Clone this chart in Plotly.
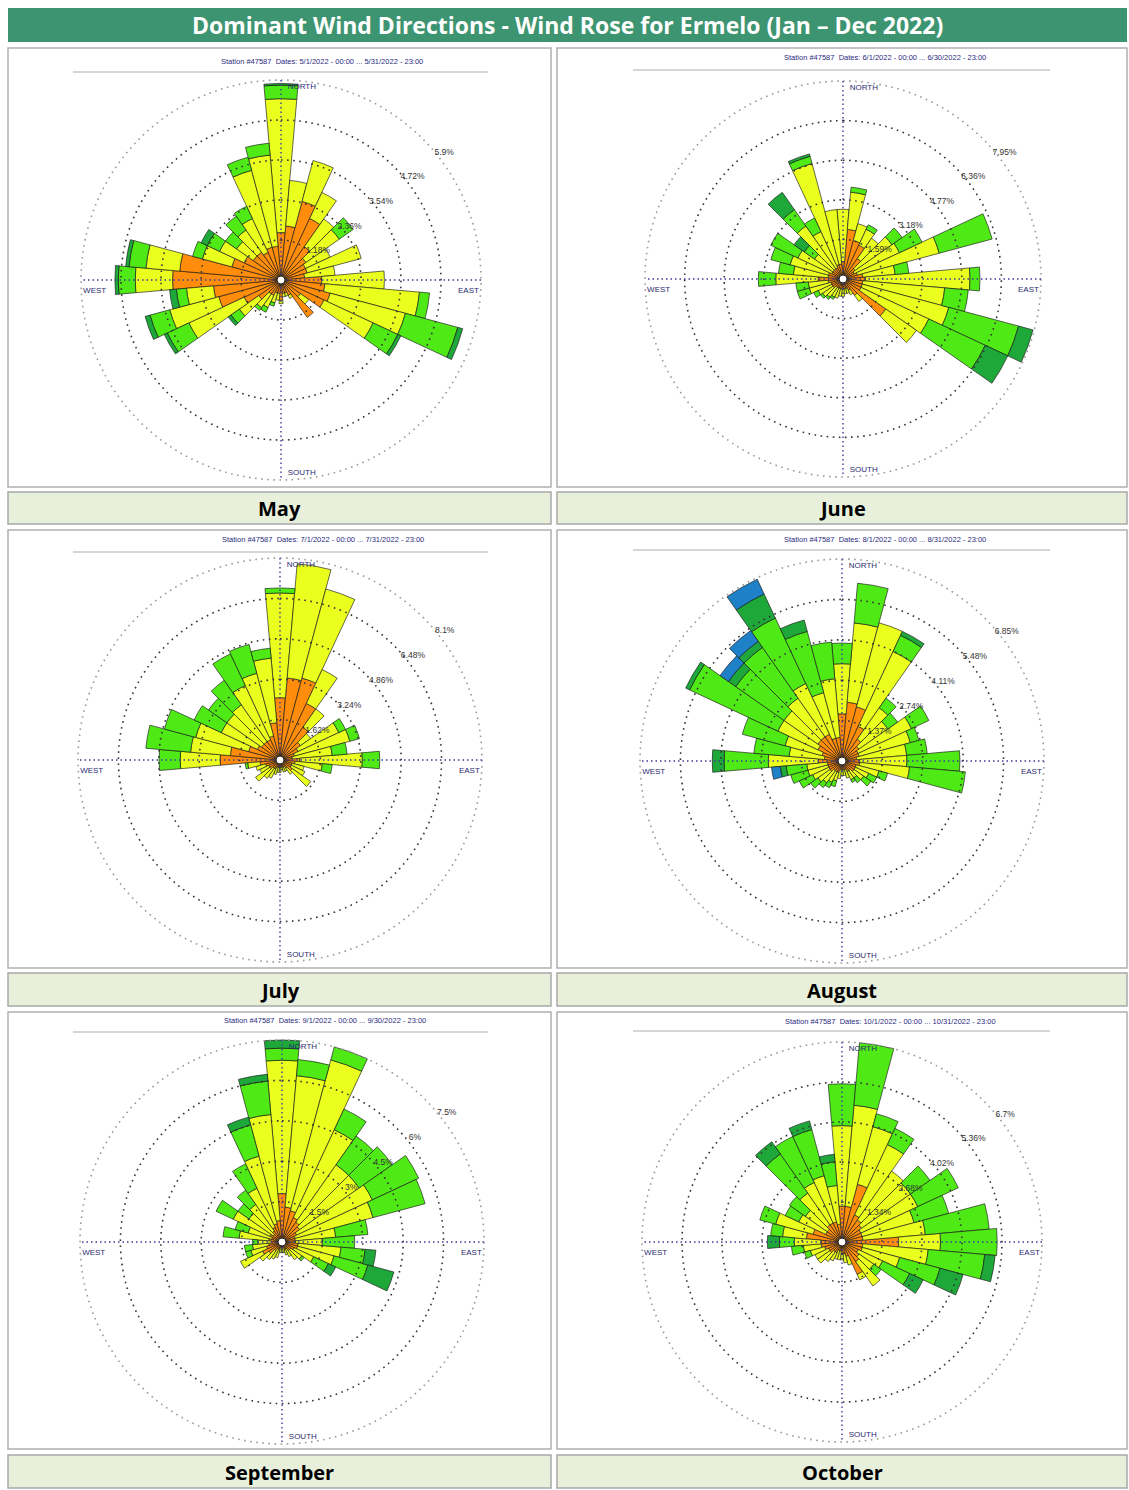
import plotly.graph_objects as go

W, H = 1129, 1490

directions = list(range(0, 360, 10))
bin_colors = ["#FF8C0A", "#EAFF1E", "#4FEA16", "#1FA83A", "#1E80C6"]

months = ["May", "June", "July", "August", "September", "October"]
header_texts = [
    "Station #47587  Dates: 5/1/2022 - 00:00 ... 5/31/2022 - 23:00",
    "Station #47587  Dates: 6/1/2022 - 00:00 ... 6/30/2022 - 23:00",
    "Station #47587  Dates: 7/1/2022 - 00:00 ... 7/31/2022 - 23:00",
    "Station #47587  Dates: 8/1/2022 - 00:00 ... 8/31/2022 - 23:00",
    "Station #47587  Dates: 9/1/2022 - 00:00 ... 9/30/2022 - 23:00",
    "Station #47587  Dates: 10/1/2022 - 00:00 ... 10/31/2022 - 23:00",
]

# ring values (percent of time) per month
may_rings = [1.18, 2.36, 3.54, 4.72, 5.9]
jun_rings = [1.59, 3.18, 4.77, 6.36, 7.95]
jul_rings = [1.62, 3.24, 4.86, 6.48, 8.1]
aug_rings = [1.37, 2.74, 4.11, 5.48, 6.85]
sep_rings = [1.5, 3.0, 4.5, 6.0, 7.5]
oct_rings = [1.34, 2.68, 4.02, 5.36, 6.7]

# ---- May (percent per speed class, by direction 0..350) ----
may_orange = [1.4, 1.6, 2.4, 2.0, 1.2, 0.9, 0.8, 0.8, 0.7, 1.2, 1.3, 1.5, 1.4, 0.7, 1.35, 0.5, 0.4, 0.4,
              0.6, 0.4, 0.4, 0.5, 0.5, 0.8, 1.2, 1.9, 2.0, 3.2, 3.0, 1.5, 1.2, 1.0, 1.0, 0.9, 1.0, 1.0]
may_yellow = [3.95, 1.35, 1.25, 0.85, 1.0, 1.2, 0.8, 1.65, 0.9, 1.85, 2.8, 2.3, 1.6, 0.3, 0.0, 0.1, 0.1, 0.1,
              0.1, 0.2, 0.3, 0.4, 0.5, 0.7, 1.8, 1.5, 0.8, 1.1, 1.0, 0.9, 0.8, 0.6, 0.8, 1.1, 2.35, 2.7]
may_green = [0.4, 0, 0, 0, 0, 0.5, 0, 0, 0, 0, 0.3, 1.6, 0.8, 0, 0, 0, 0, 0,
             0, 0, 0.1, 0.15, 0.1, 0.3, 0.7, 0.6, 0.3, 0.5, 0.5, 0.3, 0.4, 0.4, 0.5, 0.4, 0.4, 0.35]
may_dkgreen = [0.05, 0, 0, 0, 0, 0, 0, 0, 0, 0, 0, 0.15, 0.1, 0, 0, 0, 0, 0,
               0, 0, 0, 0, 0, 0.1, 0.1, 0.15, 0.2, 0.1, 0.1, 0, 0.2, 0, 0, 0, 0, 0]
may_blue = [0] * 36

# ---- June ----
jun_orange = [0.7, 2.0, 1.6, 1.5, 1.0, 0.6, 0.5, 0.6, 0.8, 0.9, 0.8, 0.8, 0.8, 2.1, 0.8, 0.5, 0.4, 0.4,
              0.4, 0.4, 0.4, 0.4, 0.4, 0.5, 0.5, 0.5, 0.6, 1.0, 0.6, 0.6, 0.5, 0.5, 0.5, 0.5, 0.6, 0.6]
jun_yellow = [2.1, 1.5, 0.7, 0.7, 1.0, 1.8, 2.0, 3.4, 1.3, 4.2, 3.3, 3.6, 3.0, 1.5, 0.3, 0.2, 0.2, 0.2,
              0.3, 0.3, 0.4, 0.4, 0.5, 0.5, 0.6, 0.9, 0.8, 1.7, 1.4, 1.6, 1.5, 0.9, 2.1, 1.6, 4.2, 2.2]
jun_green = [0, 0.2, 0, 0.2, 0, 0.5, 1.0, 2.2, 0.55, 0.4, 0.95, 2.9, 2.5, 0, 0, 0, 0, 0,
             0, 0, 0, 0.1, 0.1, 0.1, 0.2, 0.5, 0.5, 0.7, 0.6, 0.8, 1.2, 0.5, 0.8, 0.6, 0.3, 0]
jun_dkgreen = [0, 0, 0, 0, 0, 0, 0, 0, 0, 0, 0, 0.6, 1.0, 0, 0, 0, 0, 0,
               0, 0, 0, 0, 0, 0, 0, 0, 0, 0, 0, 0, 0, 0.5, 0.85, 0, 0.1, 0]
jun_blue = [0] * 36

# ---- July ----
jul_orange = [2.5, 3.3, 3.4, 2.5, 1.6, 1.0, 0.8, 0.6, 0.5, 0.8, 0.6, 0.5, 0.5, 0.6, 0.4, 0.3, 0.3, 0.3,
              0.3, 0.3, 0.3, 0.4, 0.4, 0.5, 0.5, 0.6, 0.8, 2.4, 2.0, 1.3, 1.0, 0.9, 0.9, 0.9, 1.0, 1.5]
jul_yellow = [4.2, 4.6, 3.7, 1.5, 0.9, 0.5, 1.8, 2.3, 1.6, 2.5, 1.1, 0.5, 0.6, 0.9, 0.3, 0.2, 0.2, 0.1,
              0.2, 0.2, 0.3, 0.4, 0.5, 0.7, 0.4, 0.4, 0.5, 1.6, 1.6, 2.2, 1.6, 1.7, 1.8, 2.4, 2.6, 2.6]
jul_green = [0.2, 0, 0, 0, 0, 0, 0.3, 0.4, 0.6, 0.7, 0.4, 0, 0, 0, 0, 0, 0, 0,
             0, 0, 0, 0, 0, 0, 0, 0, 0.1, 0.85, 1.8, 1.3, 1.2, 0.9, 1.2, 1.4, 1.2, 0.4]
jul_dkgreen = [0] * 36
jul_blue = [0] * 36

# ---- August ----
aug_orange = [1.6, 2.0, 1.9, 1.3, 0.9, 0.7, 0.6, 0.6, 0.5, 0.6, 0.6, 0.5, 0.5, 0.5, 0.4, 0.4, 0.3, 0.3,
              0.3, 0.3, 0.4, 0.4, 0.4, 0.5, 0.5, 0.5, 0.5, 0.8, 0.6, 0.7, 0.9, 1.0, 1.0, 1.0, 0.8, 0.8]
aug_yellow = [1.7, 2.7, 2.95, 2.8, 1.3, 1.2, 2.0, 1.8, 1.7, 1.6, 1.7, 0.8, 0.5, 0.4, 0.3, 0.3, 0.3, 0.2,
              0.2, 0.3, 0.3, 0.4, 0.5, 0.5, 0.6, 0.7, 0.7, 1.7, 1.2, 1.3, 1.5, 1.4, 1.6, 1.9, 1.6, 2.0]
aug_green = [0.7, 1.35, 0, 0.6, 0.4, 0.4, 0.65, 0.3, 0.7, 1.8, 1.9, 0.3, 0.3, 0.3, 0.2, 0.1, 0, 0,
             0, 0, 0.2, 0.2, 0.2, 0.3, 0.5, 0.6, 0.7, 1.5, 1.2, 1.5, 3.3, 2.0, 2.1, 2.45, 2.15, 1.25]
aug_dkgreen = [0, 0, 0, 0.15, 0, 0, 0, 0, 0, 0, 0, 0, 0, 0, 0, 0, 0, 0,
               0, 0, 0, 0, 0, 0, 0, 0, 0.2, 0.4, 0, 0, 0.15, 0.3, 0.25, 0.9, 0.4, 0]
aug_blue = [0, 0, 0, 0, 0, 0, 0, 0, 0, 0, 0, 0, 0, 0, 0, 0, 0, 0,
            0, 0, 0, 0, 0, 0, 0, 0, 0.3, 0, 0, 0, 0, 0.35, 0.45, 0.55, 0, 0]

# ---- September ----
sep_orange = [1.8, 1.3, 1.2, 1.0, 0.9, 0.8, 0.6, 0.5, 0.5, 0.5, 0.6, 0.6, 0.5, 0.4, 0.4, 0.3, 0.3, 0.2,
              0.2, 0.2, 0.3, 0.3, 0.4, 0.6, 0.8, 0.6, 0.5, 0.4, 0.5, 0.4, 0.5, 0.4, 0.5, 0.6, 0.7, 0.8]
sep_yellow = [4.95, 4.9, 5.8, 3.6, 2.6, 2.7, 3.1, 3.0, 1.5, 1.0, 1.6, 1.4, 0.8, 0.5, 0.4, 0.3, 0.2, 0.2,
              0.2, 0.2, 0.3, 0.4, 0.4, 0.4, 0.9, 0.6, 0.6, 0.5, 1.1, 0.9, 1.5, 1.1, 1.2, 1.6, 2.6, 3.95]
sep_green = [0.45, 0.6, 0.5, 0.85, 1.3, 1.5, 1.9, 2.0, 1.2, 1.2, 0.9, 1.3, 0.6, 0.1, 0, 0, 0, 0,
             0, 0, 0, 0, 0, 0, 0, 0.2, 0.3, 0.2, 0.6, 0.5, 0.7, 0.5, 0.65, 1.0, 1.2, 1.25]
sep_dkgreen = [0.3, 0, 0, 0, 0, 0, 0, 0, 0, 0, 0.4, 1.0, 0.3, 0, 0, 0, 0, 0,
               0, 0, 0, 0, 0, 0, 0, 0, 0, 0, 0, 0, 0, 0, 0, 0, 0.3, 0.25]
sep_blue = [0] * 36

# ---- October ----
oct_orange = [1.2, 1.2, 2.0, 1.0, 0.9, 0.8, 0.7, 0.7, 0.7, 1.9, 0.7, 0.7, 0.6, 0.7, 0.8, 1.2, 0.5, 0.4,
              0.4, 0.3, 0.3, 0.4, 0.4, 0.5, 0.5, 0.6, 0.7, 0.7, 1.2, 1.0, 0.6, 0.6, 0.7, 0.7, 0.7, 0.6]
oct_yellow = [2.7, 3.4, 2.0, 2.6, 2.0, 2.0, 2.1, 1.8, 2.1, 1.4, 2.2, 1.3, 0.9, 0.6, 1.0, 0.2, 0.3, 0.3,
              0.2, 0.3, 0.3, 0.3, 0.4, 0.5, 0.5, 0.5, 0.6, 0.9, 0.8, 1.3, 1.0, 0.9, 1.3, 1.5, 1.6, 1.3]
oct_green = [1.4, 2.1, 0.45, 0.6, 0, 0.8, 1.5, 1.2, 2.15, 1.9, 1.9, 1.4, 1.0, 0.3, 0, 0, 0, 0,
             0, 0, 0, 0, 0, 0, 0, 0.2, 0.4, 0.5, 0.4, 0.55, 0.5, 0.65, 1.6, 1.7, 1.6, 0.8]
oct_dkgreen = [0, 0, 0, 0, 0, 0, 0, 0, 0, 0, 0.35, 0.8, 0.5, 0, 0, 0, 0, 0,
               0, 0, 0, 0, 0, 0, 0, 0, 0, 0.4, 0, 0, 0, 0, 0.5, 0, 0.3, 0.25]
oct_blue = [0] * 36

month_bins = [
    [may_orange, may_yellow, may_green, may_dkgreen, may_blue],
    [jun_orange, jun_yellow, jun_green, jun_dkgreen, jun_blue],
    [jul_orange, jul_yellow, jul_green, jul_dkgreen, jul_blue],
    [aug_orange, aug_yellow, aug_green, aug_dkgreen, aug_blue],
    [sep_orange, sep_yellow, sep_green, sep_dkgreen, sep_blue],
    [oct_orange, oct_yellow, oct_green, oct_dkgreen, oct_blue],
]
month_rings = [may_rings, jun_rings, jul_rings, aug_rings, sep_rings, oct_rings]

# ---- layout geometry (pixels) ----
col_x = [(8, 551), (557, 1127)]
row_y = [(48, 487), (530, 968), (1012, 1449)]
label_y = [(492, 524), (973, 1006), (1455, 1488)]
rose_centers = [(281, 280), (843, 279), (280, 760), (842, 761), (282, 1242), (842, 1242)]
rose_radius = [200, 198, 202, 202, 202, 200]
header_pos = [(322, 61), (885, 58), (323, 540), (885, 539), (325, 1020), (890, 1021)]
header_lines = [(73, 488, 72), (633, 1050, 70), (73, 488, 552), (633, 1050, 550), (73, 488, 1032), (633, 1050, 1031)]
PAD = 1.08  # radial range headroom so outer labels stay visible


def fx(px):
    return px / W


def fy(py):
    return 1 - py / H


fig = go.Figure()
shapes = []
annotations = []

# title bar
shapes.append(dict(type="rect", xref="paper", yref="paper", x0=fx(8), x1=fx(1127), y0=fy(42), y1=fy(8),
                   fillcolor="#3D9470", line=dict(color="#3D9470", width=0), layer="below"))
annotations.append(dict(text="<b>Dominant Wind Directions - Wind Rose for Ermelo (Jan \u2013 Dec 2022)</b>",
                        x=fx(567), y=fy(25), xref="paper", yref="paper", showarrow=False,
                        font=dict(family="Open Sans", size=23, color="white"), xanchor="center", yanchor="middle"))

theta_circle = list(range(0, 361, 2))
text_font = dict(family="Liberation Sans", size=8, color="#2b2b70")

for i, month in enumerate(months):
    r_i, c_i = divmod(i, 2)
    x0, x1 = col_x[c_i]
    y0, y1 = row_y[r_i]
    ly0, ly1 = label_y[r_i]
    # panel frame
    shapes.append(dict(type="rect", xref="paper", yref="paper", x0=fx(x0), x1=fx(x1), y0=fy(y1), y1=fy(y0),
                       fillcolor="white", line=dict(color="#B0B0B0", width=1.5), layer="below"))
    # label bar
    shapes.append(dict(type="rect", xref="paper", yref="paper", x0=fx(x0), x1=fx(x1), y0=fy(ly1), y1=fy(ly0),
                       fillcolor="#E8F0DC", line=dict(color="#A8A8A8", width=1.5), layer="below"))
    annotations.append(dict(text="<b>%s</b>" % month, x=fx((x0 + x1) / 2), y=fy((ly0 + ly1) / 2 + 1),
                            xref="paper", yref="paper", showarrow=False,
                            font=dict(family="Open Sans", size=20, color="black"), xanchor="center", yanchor="middle"))
    # header
    hx, hy = header_pos[i]
    annotations.append(dict(text=header_texts[i], x=fx(hx), y=fy(hy), xref="paper", yref="paper", showarrow=False,
                            font=dict(family="Liberation Sans", size=7.5, color="#2b2b80"),
                            xanchor="center", yanchor="middle"))
    lx0, lx1, lyy = header_lines[i]
    shapes.append(dict(type="line", xref="paper", yref="paper", x0=fx(lx0), x1=fx(lx1), y0=fy(lyy), y1=fy(lyy),
                       line=dict(color="#C8C8C8", width=1.5), layer="below"))

    key = "polar" if i == 0 else "polar%d" % (i + 1)
    cx, cy = rose_centers[i]
    R = rose_radius[i] * PAD
    rings = month_rings[i]
    rmax = rings[-1]

    # rings
    for k, v in enumerate(rings):
        fig.add_trace(go.Scatterpolar(r=[v] * len(theta_circle), theta=theta_circle, mode="lines",
                                      line=dict(color="#9a9a9a" if k == len(rings) - 1 else "#333333",
                                                width=1.6, dash="1.6px,4.5px"),
                                      hoverinfo="skip", showlegend=False, subplot=key))
    # compass axes
    for a, b in [(0, 180), (90, 270)]:
        fig.add_trace(go.Scatterpolar(r=[rmax, 0, rmax], theta=[a, a, b], mode="lines",
                                      line=dict(color="#3b3b9a", width=1.4, dash="1.5px,3px"),
                                      hoverinfo="skip", showlegend=False, subplot=key))
    # bars
    for b, vals in enumerate(month_bins[i]):
        fig.add_trace(go.Barpolar(r=vals, theta=directions, width=[10] * 36,
                                  marker=dict(color=bin_colors[b], line=dict(color="rgba(20,20,20,0.8)", width=0.8)),
                                  showlegend=False, subplot=key, hoverinfo="skip"))
    # center dot
    fig.add_trace(go.Scatterpolar(r=[0], theta=[0], mode="markers",
                                  marker=dict(color="white", size=8, line=dict(color="#222", width=1)),
                                  hoverinfo="skip", showlegend=False, subplot=key))
    # compass labels
    fig.add_trace(go.Scatterpolar(r=[rmax * 0.965, rmax * 0.965, rmax * 0.99, rmax * 0.99],
                                  theta=[2, 178, 92, 268], mode="text",
                                  text=["NORTH", "SOUTH", "EAST", "WEST"],
                                  textposition=["middle right", "middle right", "bottom left", "bottom right"],
                                  textfont=text_font, hoverinfo="skip", showlegend=False, subplot=key))
    # ring labels
    fig.add_trace(go.Scatterpolar(r=[v + rmax * 0.035 for v in rings], theta=[52] * len(rings), mode="text",
                                  text=["%g%%" % v for v in rings], textposition="middle center",
                                  textfont=dict(family="Liberation Sans", size=8.5, color="#333333"),
                                  hoverinfo="skip", showlegend=False, subplot=key))

    fig.layout[key] = dict(
        domain=dict(x=[fx(cx - R), fx(cx + R)], y=[fy(cy + R), fy(cy - R)]),
        bgcolor="rgba(0,0,0,0)",
        barmode="stack", bargap=0,
        radialaxis=dict(range=[0, rmax * PAD], showgrid=False, showline=False, showticklabels=False, ticks=""),
        angularaxis=dict(rotation=90, direction="clockwise", showgrid=False, showline=False,
                         showticklabels=False, ticks=""),
    )

fig.update_layout(width=W, height=H, margin=dict(l=0, r=0, t=0, b=0),
                  paper_bgcolor="white", plot_bgcolor="white",
                  shapes=shapes, annotations=annotations, showlegend=False)

fig.write_html("out.html", config={"displayModeBar": False},
               post_script="document.body.style.margin='0px';document.body.style.overflow='hidden';")
